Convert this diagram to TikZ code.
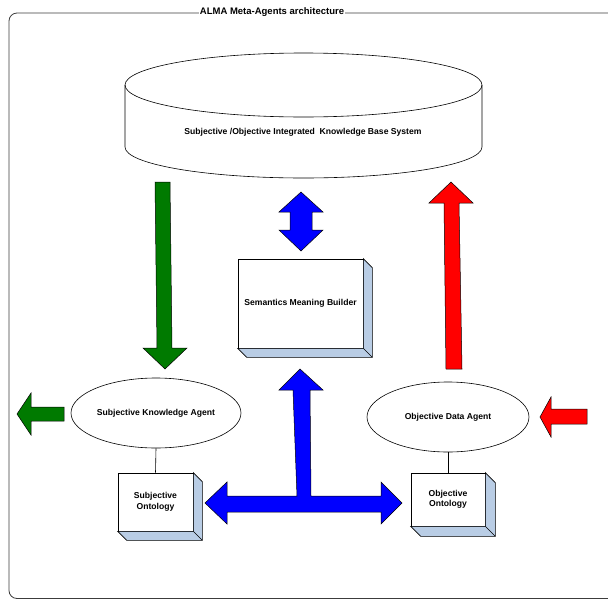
\documentclass[tikz,border=0pt]{standalone}
\usepackage{fontspec}
\setmainfont{Liberation Sans}
\usetikzlibrary{shapes.geometric}
\definecolor{agreen}{RGB}{0,122,0}
\definecolor{depthblue}{RGB}{185,205,229}
\definecolor{framegray}{RGB}{60,60,60}
\newcommand\drawdepth[2]{%
  \filldraw[fill=depthblue, draw=black, line width=0.6pt, line join=miter]
    (#1.north east) -- ([shift={(#2,#2)}]#1.north east) -- ([shift={(#2,#2)}]#1.south east)
    -- ([shift={(#2,#2)}]#1.south west) -- (#1.south west) -- (#1.south east) -- cycle;
  \draw[line width=0.6pt] (#1.south east) -- ([shift={(#2,#2)}]#1.south east);
}
\begin{document}
\begin{tikzpicture}[x=1pt,y=-1pt,
  txt/.style={font=\bfseries\fontsize{8.6}{10.5}\selectfont, align=center},
  agent/.style={ellipse, draw=black, line width=0.6pt, fill=white, inner sep=0pt, txt},
  cube/.style={rectangle, draw=black, line width=0.6pt, fill=white, inner sep=0pt, txt},
  blockarrow/.style={draw=black, line width=0.5pt, line join=miter}]
\useasboundingbox (0,0) rectangle (608,600);
% frame
\begin{scope}
\clip (0,0) rectangle (608,600);
\draw[framegray, line width=0.8pt, rounded corners=8pt] (640,13) -- (9,13) -- (9,598.5) -- (640,598.5);
\end{scope}
\node[fill=white, inner xsep=1pt, inner ysep=1pt, font=\bfseries\fontsize{9.5}{11}\selectfont] (title) at (272,12) {ALMA Meta-Agents architecture};
% cylinder
\filldraw[fill=white, draw=black, line width=0.6pt]
  (125,85) -- (125,147)
  .. controls (125,164.1) and (204.9,178) .. (303.5,178)
  .. controls (402.1,178) and (482,164.1) .. (482,147) -- (482,85);
\draw[line width=0.6pt] (303.5,85) ellipse [x radius=178.5, y radius=32];
\node[txt] (kb) at (303,132) {Subjective /Objective Integrated\ \ Knowledge Base System};
% semantics meaning builder
\node[cube, minimum width=125pt, minimum height=89pt] (smb) at (300.5,303.5) {Semantics Meaning Builder};
\drawdepth{smb}{9}
% agents
\node[agent, minimum width=170pt, minimum height=70pt] (ska) at (156,413) {Subjective Knowledge Agent};
\node[agent, minimum width=162pt, minimum height=70pt] (oda) at (448,417) {Objective Data Agent};
% ontologies
\node[cube, minimum width=75pt, minimum height=58pt] (so) at (155.5,502) {Subjective\\Ontology};
\drawdepth{so}{9}
\node[cube, minimum width=74pt, minimum height=53pt] (oo) at (448,499.5) {Objective\\Ontology};
\drawdepth{oo}{10}
\draw[line width=0.6pt] (ska.south) -- (so.north);
\draw[line width=0.6pt] (oda.south) -- (oo.north);
% green down arrow
\filldraw[blockarrow, fill=agreen] (155,182) -- (170,182) -- (172,348) -- (187,348) -- (165,369) -- (143,348) -- (157,348) -- cycle;
% red up arrow
\filldraw[blockarrow, fill=red] (446,369) -- (444,203) -- (429,203) -- (451,182) -- (473,203) -- (459,203) -- (462,369) -- cycle;
% blue double arrow
\filldraw[blockarrow, fill=blue] (279,212) -- (301,192) -- (323,212) -- (312,212) -- (312,230) -- (323,230) -- (301,251) -- (279,230) -- (290,230) -- (290,212) -- cycle;
% blue T arrow
\filldraw[blockarrow, fill=blue] (205,503) -- (227,482) -- (227,496) -- (297,496) -- (293,390) -- (279,390) -- (300,369) -- (323,390) -- (310,390) -- (311,496) -- (381,496) -- (381,482) -- (402,503) -- (381,524) -- (381,512) -- (227,512) -- (227,524) -- cycle;
% green left arrow
\filldraw[blockarrow, fill=agreen] (17,414) -- (31,393) -- (31,407) -- (64,407) -- (64,421) -- (31,421) -- (31,435) -- cycle;
% red left arrow
\filldraw[blockarrow, fill=red] (540,417) -- (551,397) -- (551,409) -- (587,409) -- (587,424) -- (551,424) -- (551,437) -- cycle;
\end{tikzpicture}
\end{document}
